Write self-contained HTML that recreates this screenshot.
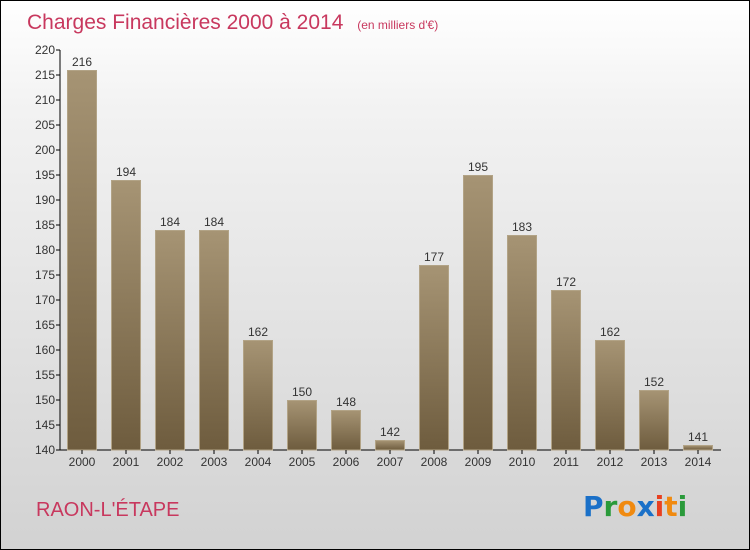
<!DOCTYPE html>
<html><head><meta charset="utf-8"><style>
body{margin:0}
#c{width:750px;height:550px;position:relative;box-sizing:border-box;border:1px solid #000;background:linear-gradient(#fff,#f2f2f2 20%,#d2d2d2);overflow:hidden;font-family:"Liberation Sans",sans-serif}
</style></head><body>
<div id="c">
<svg width="750" height="550" style="position:absolute;left:-1px;top:-1px">
<defs><linearGradient id="bg" x1="0" y1="0" x2="0" y2="1"><stop offset="0" stop-color="#a69474"/><stop offset="1" stop-color="#6e5c3e"/></linearGradient></defs>
<text x="27" y="29" font-size="21" fill="#c8385e">Charges Financières 2000 à 2014 <tspan font-size="12" dx="8">(en milliers d'€)</tspan></text>
<text x="36" y="516" font-size="20" fill="#c8385e">RAON-L'ÉTAPE</text>
<g font-size="28" font-weight="bold" font-family="'DejaVu Sans',sans-serif"><text x="583" y="516"><tspan fill="#1a70c8">P</tspan><tspan fill="#2a9a3a">r</tspan><tspan fill="#f08a10">o</tspan><tspan fill="#1a70c8">x</tspan><tspan fill="#e84020">i</tspan><tspan fill="#f08a10">t</tspan><tspan fill="#2a9a3a">i</tspan></text></g>
<g id="plot"></g>
</svg>
</div>
<script>
const categories=["2000","2001","2002","2003","2004","2005","2006","2007","2008","2009","2010","2011","2012","2013","2014"];
const values=[216,194,184,184,162,150,148,142,177,195,183,172,162,152,141];
const ticks=[140,145,150,155,160,165,170,175,180,185,190,195,200,205,210,215,220];
const ns="http://www.w3.org/2000/svg";
const g=document.getElementById('plot');
const y=v=>450-(v-140)*5;
const x=i=>67+i*44;
function el(t,a){const e=document.createElementNS(ns,t);for(const k in a)e.setAttribute(k,a[k]);g.appendChild(e);return e;}
let ax=el('line',{x1:60,y1:50,x2:60,y2:450,stroke:'#000'});


let xa=el('line',{x1:60,y1:450,x2:721,y2:450,stroke:'#000'});


ticks.forEach(t=>{
 let l=el('line',{x1:56,y1:y(t),x2:60,y2:y(t),stroke:'#000'});
 
 
 let tx=el('text',{x:55,y:y(t)+4,'font-size':12,fill:'#333','text-anchor':'end'});
 tx.textContent=t;
 
 
});
categories.forEach((c,i)=>{
 const v=values[i];
 let r=el('rect',{x:x(i)+0.5,y:y(v)+0.5,width:29,height:450-y(v)-0.5,fill:'url(#bg)',stroke:'#b2a386','stroke-width':1});
 
 
 let vt=el('text',{x:x(i)+15,y:y(v)-4,'font-size':12,fill:'#333','text-anchor':'middle'});
 vt.textContent=v;
 
 
 let tk=el('line',{x1:x(i)+15,y1:450,x2:x(i)+15,y2:454,stroke:'#000'});
 
 
 let xt=el('text',{x:x(i)+15,y:466,'font-size':12,fill:'#333','text-anchor':'middle'});
 xt.textContent=c;
 
 
});
</script>
</body></html>
